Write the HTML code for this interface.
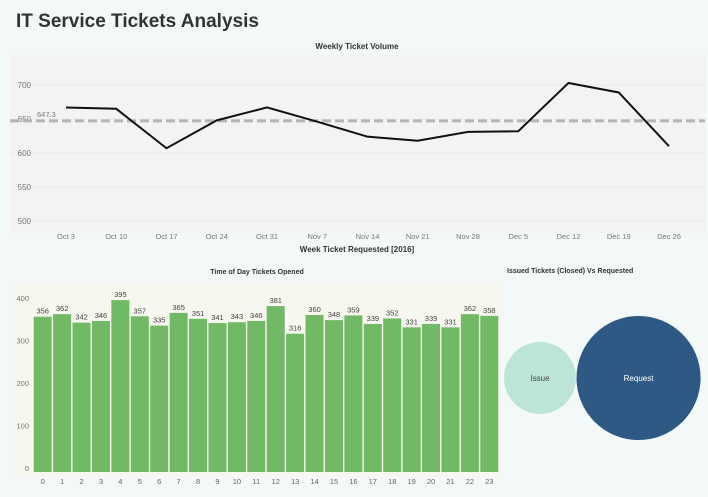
<!DOCTYPE html>
<html><head><meta charset="utf-8">
<style>
body{margin:0;width:708px;height:497px;background:#f3f8f8;font-family:"Liberation Sans",sans-serif;overflow:hidden}
svg{position:absolute;left:0;top:0}
</style></head>
<body>
<svg id="s" width="708" height="497">
<rect x="0" y="0" width="708" height="497" fill="#f3f8f8"/>
<text x="16" y="27" font-size="19" font-weight="bold" fill="#333">IT Service Tickets Analysis</text>
<rect x="10" y="55" width="695" height="178" fill="#f3f3f3"/>
<text x="357" y="49" font-size="8" font-weight="bold" fill="#333" text-anchor="middle">Weekly Ticket Volume</text>
<text x="357" y="252" font-size="8" font-weight="bold" fill="#333" text-anchor="middle">Week Ticket Requested [2016]</text>
<g id="lineG"></g>
<rect x="14" y="282" width="487" height="196" fill="#f6f8ef"/>
<text x="257" y="274" font-size="7" font-weight="bold" fill="#333" text-anchor="middle">Time of Day Tickets Opened</text>
<g id="barG"></g>
<text x="507" y="273" font-size="7" font-weight="bold" fill="#333">Issued Tickets (Closed) Vs Requested</text>
<g id="bubG"></g>
</svg>
<script>
const weeks=["Oct 3","Oct 10","Oct 17","Oct 24","Oct 31","Nov 7","Nov 14","Nov 21","Nov 28","Dec 5","Dec 12","Dec 19","Dec 26"];
const weekly=[667,665,607,648,667,646,624,618,631,632,703,689,610];
const avgLine=647.3;
const lineTicks=[500,550,600,650,700];
const hours=["0","1","2","3","4","5","6","7","8","9","10","11","12","13","14","15","16","17","18","19","20","21","22","23"];
const hourly=[356,362,342,346,395,357,335,365,351,341,343,346,381,316,360,348,359,339,352,331,339,331,362,358];
const barTicks=[0,100,200,300,400];
const bubbleNames=["Issue","Request"];
const bubbleValues=[1,2.97];

const NS="http://www.w3.org/2000/svg";
function mk(p,t,a){const e=document.createElementNS(NS,t);for(const k in a)e.setAttribute(k,a[k]);p.appendChild(e);return e;}

// line chart
const lg=document.getElementById('lineG');
const ly=v=>221-(v-500)*(136/200);
const lx=i=>66+i*(603/(weeks.length-1));
lineTicks.forEach(t=>{
 const g=mk(lg,'line',{x1:10,x2:705,y1:ly(t),y2:ly(t),stroke:'#ebebeb','stroke-width':1});
 
 
 const tx=mk(lg,'text',{x:31,y:ly(t)+3,'font-size':8,fill:'#777','text-anchor':'end'});
 tx.textContent=t;
 
 
});
weeks.forEach((w,i)=>{
 const tx=mk(lg,'text',{x:lx(i),y:239,'font-size':7.5,fill:'#777','text-anchor':'middle'});
 tx.textContent=w;
 
 
});
const al=mk(lg,'line',{x1:10,x2:705,y1:ly(avgLine),y2:ly(avgLine),stroke:'#b5b5b5','stroke-width':3,'stroke-dasharray':'9,4'});


const at=mk(lg,'text',{x:37,y:ly(avgLine)-4,'font-size':7.5,fill:'#777'});
at.textContent=avgLine.toFixed(1);


const pl=mk(lg,'polyline',{points:weekly.map((v,i)=>lx(i)+','+ly(v)).join(' '),fill:'none',stroke:'#111','stroke-width':2});



// bar chart
const bg=document.getElementById('barG');
const by=v=>468-v*(170/400);
const slot=466/24;
barTicks.forEach(t=>{
 const tx=mk(bg,'text',{x:29,y:by(t)+3,'font-size':7.5,fill:'#777','text-anchor':'end'});
 tx.textContent=t;
 
 
});
hourly.forEach((v,i)=>{
 const x=33+i*slot;
 const r=mk(bg,'rect',{x:x+0.7,y:by(v),width:slot-1.4,height:472-by(v),fill:'#72b966'});
 
 
 const tx=mk(bg,'text',{x:x+slot/2,y:by(v)-3,'font-size':7.5,fill:'#444','text-anchor':'middle'});
 tx.textContent=v;
 
 
 const hx=mk(bg,'text',{x:x+slot/2,y:484,'font-size':7.5,fill:'#666','text-anchor':'middle'});
 hx.textContent=hours[i];
 
 
});

// bubbles
const bb=document.getElementById('bubG');
const rScale=v=>36*Math.sqrt(v/bubbleValues[0]);
const cols=['#bde4d8','#2e5984'];
const tcols=['#444','#fff'];
let cx=504;
bubbleValues.forEach((v,i)=>{
 const r=rScale(v);
 cx+=r;
 const c=mk(bb,'circle',{cx:cx,cy:378,r:r,fill:cols[i]});
 
 
 const tx=mk(bb,'text',{x:cx,y:381,'font-size':8,fill:tcols[i],'text-anchor':'middle'});
 tx.textContent=bubbleNames[i];
 
 
 cx+=r+0.5;
});
</script>
</body></html>
